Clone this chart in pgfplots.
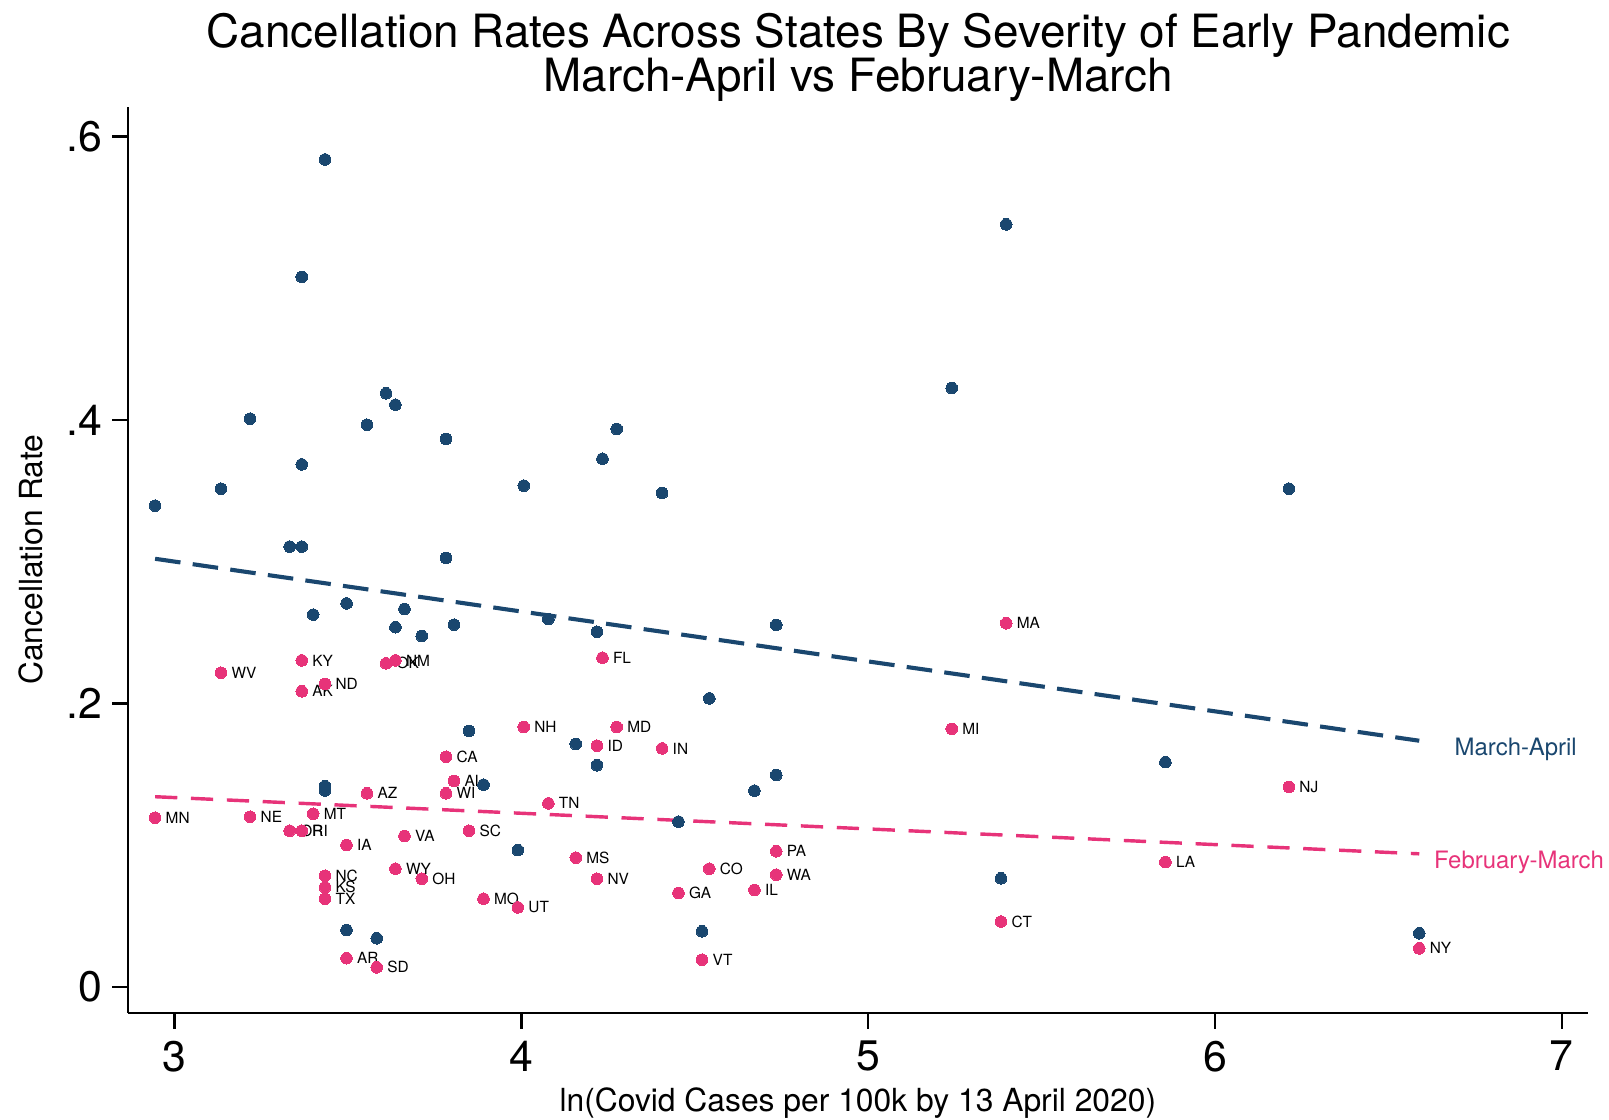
\documentclass[border=0pt]{standalone}
\usepackage{fontspec}
\setmainfont{TeX Gyre Heros}
\usepackage{pgfplots}
\usepackage{pgfplotstable}
\pgfplotsset{compat=1.18}

\definecolor{stnavy}{RGB}{26,71,111}
\definecolor{stpink}{RGB}{231,51,121}

% February-March cancellation rates, labelled by state
\pgfplotstableread{
x y lab
2.944 0.1193 MN
3.134 0.2216 WV
3.367 0.2303 KY
3.367 0.2085 AK
3.434 0.2136 ND
3.610 0.2282 OK
3.637 0.2303 NM
3.218 0.1200 NE
3.400 0.1221 MT
3.332 0.1101 OR
3.367 0.1101 RI
3.496 0.1000 IA
3.555 0.1365 AZ
3.663 0.1064 VA
3.637 0.0833 WY
3.713 0.0762 OH
3.434 0.0783 NC
3.434 0.0702 KS
3.434 0.0621 TX
3.496 0.0201 AR
3.583 0.0137 SD
3.783 0.1623 CA
3.806 0.1452 AL
3.783 0.1365 WI
3.849 0.1101 SC
3.891 0.0621 MO
3.990 0.0560 UT
4.007 0.1833 NH
4.078 0.1294 TN
4.157 0.0911 MS
4.218 0.0762 NV
4.234 0.2322 FL
4.218 0.1701 ID
4.275 0.1833 MD
4.406 0.1682 IN
4.453 0.0662 GA
4.542 0.0833 CO
4.521 0.0191 VT
4.672 0.0683 IL
4.735 0.0956 PA
4.735 0.0791 WA
5.241 0.1820 MI
5.398 0.2565 MA
5.383 0.0460 CT
5.857 0.0880 LA
6.213 0.1410 NJ
6.589 0.0271 NY
}\febmar

% March-April cancellation rates
\pgfplotstableread{
x y
2.944 0.3395
3.134 0.3515
3.218 0.4009
3.367 0.5009
3.434 0.5838
3.367 0.3686
3.332 0.3106
3.367 0.3106
3.400 0.2626
3.496 0.2705
3.555 0.3966
3.610 0.4188
3.637 0.4107
3.637 0.2537
3.663 0.2666
3.713 0.2475
3.783 0.3865
3.783 0.3025
3.806 0.2555
3.849 0.1805
3.891 0.1426
3.990 0.0964
4.007 0.3536
4.078 0.2595
4.157 0.1713
4.218 0.2505
4.218 0.1563
4.234 0.3726
4.275 0.3936
4.406 0.3484
4.453 0.1165
4.542 0.2035
4.521 0.0391
4.672 0.1384
4.735 0.1494
4.735 0.2553
5.241 0.4225
5.398 0.5380
5.383 0.0765
5.857 0.1585
6.213 0.3515
6.589 0.0377
3.434 0.1415
3.434 0.1400
3.434 0.1385
3.496 0.0400
3.583 0.0342
}\marapr

\begin{document}
\begin{tikzpicture}
\begin{axis}[
    scale only axis,
    width=426.9pt, height=264.9pt,
    xmin=2.8667, xmax=7.0769,
    ymin=-0.0184, ymax=0.621,
    axis x line*=bottom, axis y line*=left,
    axis line style={line width=0.7pt, black},
    tick align=outside,
    major tick length=4.7pt,
    tick style={line width=0.7pt, black},
    xtick={3,4,5,6,7}, xticklabels={3,4,5,6,7},
    ytick={0,0.2,0.4,0.6}, yticklabels={0,.2,.4,.6},
    ticklabel style={font=\fontsize{12.5}{14}\selectfont, inner sep=0pt},
    xticklabel style={anchor=north, yshift=-3.4pt},
    yticklabel style={anchor=east, xshift=-2.8pt},
    clip=false,
]

% linear fits
\addplot[stnavy, line width=1.2pt, dash pattern=on 7.5pt off 3.6pt]
    coordinates {(2.944,0.3020) (6.589,0.1736)};
\addplot[stpink, line width=1.0pt, dash pattern=on 6.5pt off 4pt]
    coordinates {(2.944,0.1341) (6.589,0.0938)};

\addplot[stpink, only marks, mark=*, mark size=1.7pt,
    mark options={fill=stpink, draw=stpink, line width=0pt},
    nodes near coords, point meta=explicit symbolic,
    nodes near coords style={anchor=west, inner sep=0pt, xshift=3.1pt,
        text=black, font=\fontsize{4.5}{5}\selectfont}]
    table[x=x, y=y, meta=lab] {\febmar};

\addplot[stnavy, only marks, mark=*, mark size=1.7pt,
    mark options={fill=stnavy, draw=stnavy, line width=0pt}]
    table[x=x, y=y] {\marapr};

\node[anchor=base west, inner sep=0pt, text=stnavy, font=\fontsize{7}{8}\selectfont]
    at (axis cs:6.689,0.1629) {March-April};
\node[anchor=base west, inner sep=0pt, text=stpink, font=\fontsize{7}{8}\selectfont]
    at (axis cs:6.630,0.0836) {February-March};
\end{axis}

\node[anchor=base, font=\fontsize{13.4}{15}\selectfont]
    at (213.45pt,282.3pt) {Cancellation Rates Across States By Severity of Early Pandemic};
\node[anchor=base, font=\fontsize{13.4}{15}\selectfont]
    at (213.45pt,269.4pt) {March-April vs February-March};
\node[anchor=base, rotate=90, font=\fontsize{9.3}{11}\selectfont]
    at (-25pt,132.45pt) {Cancellation Rate};
\node[anchor=base, font=\fontsize{9.3}{11}\selectfont]
    at (213.3pt,-28.8pt) {ln(Covid Cases per 100k by 13 April 2020)};

\pgfresetboundingbox
\useasboundingbox (-37.5pt,-31.2pt) rectangle (432.9pt,296.1pt);
\end{tikzpicture}
\end{document}
